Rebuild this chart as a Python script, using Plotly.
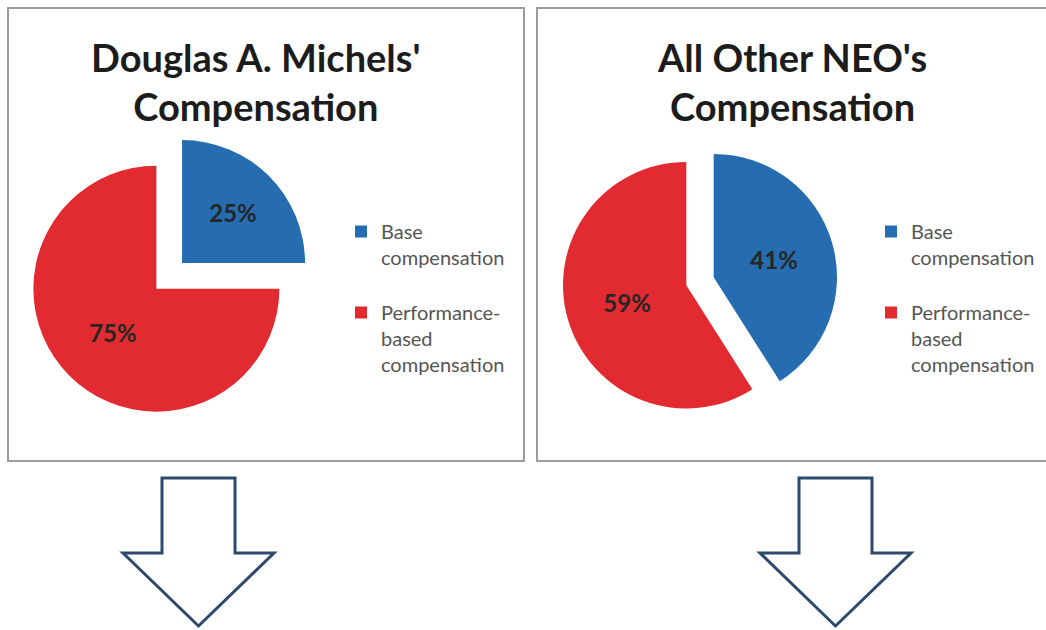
import plotly.graph_objects as go

W, H = 1046, 630

# ---- data ----
categories = ["Base compensation", "Performance-based compensation"]
michels_values = [25, 75]
other_neo_values = [41, 59]
chart_titles = ["Douglas A. Michels'<br>Compensation", "All Other NEO's<br>Compensation"]

colors = ["#256db0", "#e12b31"]
label_color = "#262626"
legend_color = "#555555"
title_color = "#1c1c1c"
FONT = "Lato"

WRAP = {"Base compensation": ["Base", "compensation"],
        "Performance-based compensation": ["Performance-", "based", "compensation"]}


def legend_labels(pad):
    # wrapped like the reference legend; a blank line after the first item widens the gap.
    # `pad` makes each chart's labels unique so both legends are drawn.
    first = "<br>".join(WRAP[categories[0]] + [pad])
    second = "<br>".join(WRAP[categories[1]]) + ("" if pad == " " else "<br>" + pad)
    return [first, second]


left_labels = legend_labels(" ")
right_labels = legend_labels("&nbsp;")


def px_dom_x(a, b):
    return [a / W, b / W]


def px_dom_y(top, bottom):
    return [(H - bottom) / H, (H - top) / H]


def pie(values, labels, cx, cy, r, pull, legend):
    half = r * (1 + pull)
    return go.Pie(
        values=values,
        labels=labels,
        sort=False,
        direction="clockwise",
        rotation=0,
        pull=[pull, pull],
        marker=dict(colors=colors, line=dict(width=0)),
        textinfo="percent",
        textposition="inside",
        insidetextorientation="horizontal",
        insidetextfont=dict(family=FONT, size=24, color=label_color, weight="bold"),
        hoverinfo="label+percent",
        domain=dict(x=px_dom_x(cx - half, cx + half), y=px_dom_y(cy - half, cy + half)),
        legend=legend,
        showlegend=True,
    )


fig = go.Figure()
fig.add_trace(pie(michels_values, left_labels, 169.2, 275.9, 123, 0.1476, "legend"))
fig.add_trace(pie(other_neo_values, right_labels, 700.0, 281.2, 123.3, 0.1156, "legend2"))

legend_common = dict(
    font=dict(family=FONT, size=20, color=legend_color),
    bgcolor="rgba(0,0,0,0)",
    borderwidth=0,
    valign="top",
    xanchor="left",
    yanchor="top",
    traceorder="normal",
)

shapes = []
# panel borders
for x0, x1 in [(8, 524), (537, 1052)]:
    shapes.append(dict(type="rect", xref="paper", yref="paper",
                       x0=x0 / W, x1=x1 / W, y0=(H - 461) / H, y1=(H - 8) / H,
                       line=dict(color="#9c9c9c", width=2), fillcolor="rgba(0,0,0,0)", layer="below"))


# outline down-arrows
def arrow_path(cx, shaft_half, head_half, top, shoulder, tip):
    pts = [(cx - shaft_half, top), (cx + shaft_half, top), (cx + shaft_half, shoulder),
           (cx + head_half, shoulder), (cx, tip), (cx - head_half, shoulder),
           (cx - shaft_half, shoulder)]
    return "M " + " L ".join(f"{x} {y}" for x, y in pts) + " Z"


for cx in [198.5, 835.5]:
    shapes.append(dict(type="path", xref="x", yref="y",
                       path=arrow_path(cx, 36.5, 75.5, 478, 553, 626),
                       line=dict(color="#2d4a6c", width=3), fillcolor="white"))

annotations = []
for text, cx in zip(chart_titles, [256, 792]):
    annotations.append(dict(text=text, xref="paper", yref="paper", x=cx / W, y=(H - 82) / H,
                            xanchor="center", yanchor="middle", showarrow=False,
                            font=dict(family=FONT, size=38, color=title_color, weight="bold")))

fig.update_layout(
    width=W, height=H,
    margin=dict(l=0, r=0, t=0, b=0, autoexpand=False),
    paper_bgcolor="white", plot_bgcolor="white",
    xaxis=dict(range=[0, W], visible=False, fixedrange=True),
    yaxis=dict(range=[H, 0], visible=False, fixedrange=True),
    legend=dict(x=341 / W, y=(H - 212) / H, **legend_common),
    legend2=dict(x=871 / W, y=(H - 212) / H, **legend_common),
    shapes=shapes,
    annotations=annotations,
)

fig.write_html("out.html", config={"displayModeBar": False},
               post_script="document.body.style.margin='0px';")
